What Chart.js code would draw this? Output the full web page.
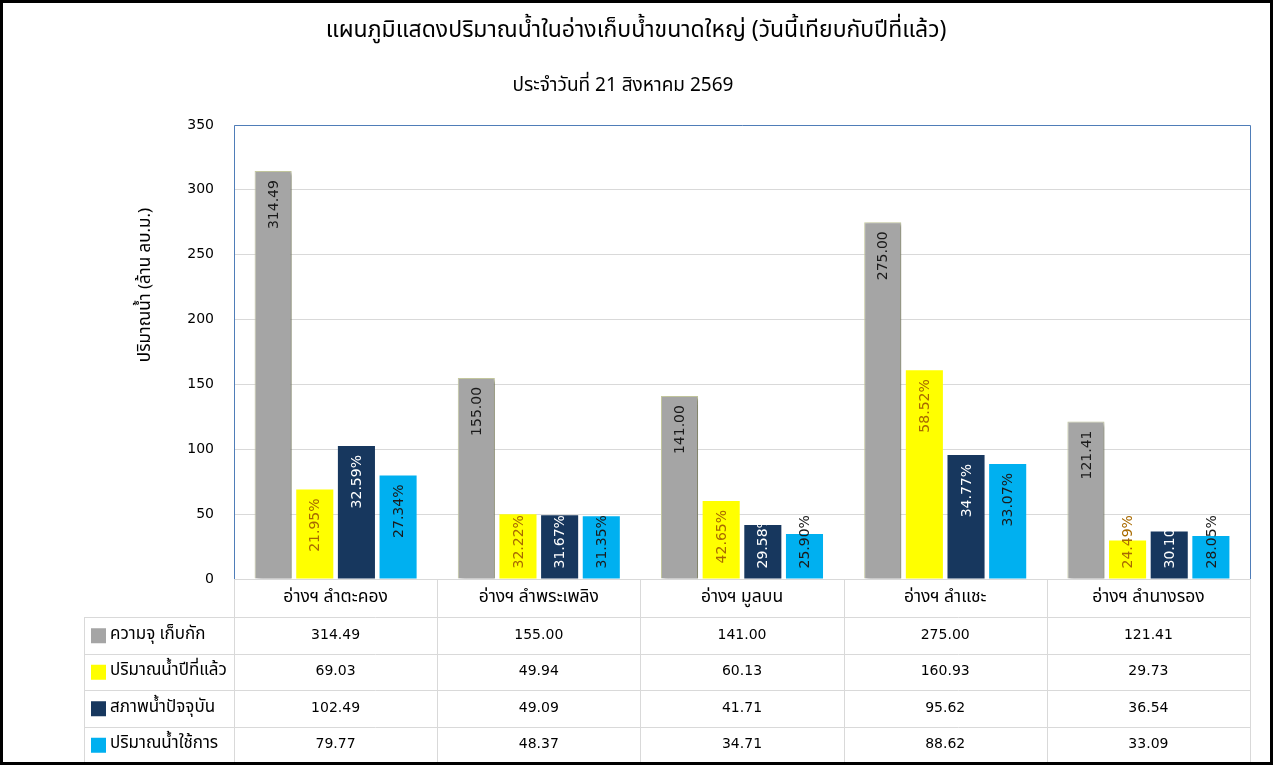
<!DOCTYPE html>
<html>
<head>
<meta charset="utf-8">
<script src="https://cdn.jsdelivr.net/npm/chart.js@4"></script>
<style>
html,body{margin:0;padding:0;background:#fff;}
#wrap{width:1273px;height:765px;position:relative;}
</style>
</head>
<body>
<div id="wrap"><canvas id="c" width="1273" height="765"></canvas></div>
<script>
const categories = ['อ่างฯ ลำตะคอง','อ่างฯ ลำพระเพลิง','อ่างฯ มูลบน','อ่างฯ ลำแชะ','อ่างฯ ลำนางรอง'];
const seriesNames = ['ความจุ เก็บกัก','ปริมาณน้ำปีที่แล้ว','สภาพน้ำปัจจุบัน','ปริมาณน้ำใช้การ'];
const capacity = [314.49,155.00,141.00,275.00,121.41];
const lastYear = [69.03,49.94,60.13,160.93,29.73];
const current = [102.49,49.09,41.71,95.62,36.54];
const usable = [79.77,48.37,34.71,88.62,33.09];
const capacityLabels = ['314.49','155.00','141.00','275.00','121.41'];
const lastYearPct = ['21.95%','32.22%','42.65%','58.52%','24.49%'];
const currentPct = ['32.59%','31.67%','29.58%','34.77%','30.10%'];
const usablePct = ['27.34%','31.35%','25.90%','33.07%','28.05%'];
const yTicks = [0,50,100,150,200,250,300,350];
const titleText = 'แผนภูมิแสดงปริมาณน้ำในอ่างเก็บน้ำขนาดใหญ่ (วันนี้เทียบกับปีที่แล้ว)';
const subtitleText = 'ประจำวันที่ 21 สิงหาคม 2569';
const yTitleText = 'ปริมาณน้ำ (ล้าน ลบ.ม.)';

const colors = ['#A5A5A5','#FFFF00','#17375E','#00B0F0'];
const labelColors = ['#1a1a1a','#A86A00','#FFFFFF','#1a1a1a'];
const THAI = '"Noto Sans Thai","Noto Sans Thai UI","Loma","Garuda","Tahoma","Noto Sans","DejaVu Sans",sans-serif';
const NUM = '"DejaVu Sans","Verdana",sans-serif';
const allData = [capacity,lastYear,current,usable];
const allLabels = [capacityLabels,lastYearPct,currentPct,usablePct];

const drawPlugin = {
  id:'custom',
  beforeDraw(chart){
    const c = chart.ctx;
    c.save();
    c.fillStyle='#fff';
    c.fillRect(0,0,chart.width,chart.height);
    c.fillStyle='#000';
    c.textAlign='center';
    c.textBaseline='middle';
    c.font='23px '+THAI;
    c.fillText(titleText,636,32);
    c.font='19px '+THAI;
    c.fillText(subtitleText,623,87);
    c.translate(147,285);
    c.rotate(-Math.PI/2);
    c.font='17px '+THAI;
    c.fillText(yTitleText,0,0);
    c.restore();
  },
  beforeDatasetDraw(chart,args){
    if(args.index===0){
      const c=chart.ctx;
      c.save();
      c.shadowColor='rgba(0,0,0,0.35)';
      c.shadowOffsetX=3;
      c.shadowOffsetY=2;
      c.shadowBlur=3;
    }
  },
  afterDatasetDraw(chart,args){
    if(args.index===0){ chart.ctx.restore(); }
  },
  afterDatasetsDraw(chart){
    const c=chart.ctx;
    c.save();
    c.font='14px '+NUM;
    c.textBaseline='middle';
    c.textAlign='right';
    for(let d=0; d<4; d++){
      const meta=chart.getDatasetMeta(d);
      meta.data.forEach((el,i)=>{
        const txt=allLabels[d][i];
        const len=c.measureText(txt).width;
        let anchor=el.y+9;
        if(anchor+len>el.base-10) anchor=el.base-10-len;
        c.save();
        c.translate(el.x+1,anchor);
        c.rotate(-Math.PI/2);
        c.fillStyle=labelColors[d];
        c.fillText(txt,0,0);
        c.restore();
      });
    }
    c.restore();
  },
  afterDraw(chart){
    const c=chart.ctx;
    const a=chart.chartArea;
    const xs=chart.scales.x;
    c.save();
    // plot frame
    c.strokeStyle='#4F7DB8';
    c.lineWidth=1;
    c.beginPath();
    c.moveTo(a.left+0.5,a.bottom);
    c.lineTo(a.left+0.5,a.top+0.5);
    c.lineTo(a.right+0.5,a.top+0.5);
    c.lineTo(a.right+0.5,a.bottom);
    c.stroke();
    // table
    const rowTop=617, rowH=36.5, tableLeft=84, tableBottom=762;
    const colW=(a.right-a.left)/categories.length;
    c.strokeStyle='#D9D9D9';
    c.beginPath();
    c.moveTo(a.left,a.bottom+0.5); c.lineTo(a.right,a.bottom+0.5);
    for(let r=0;r<4;r++){
      const y=Math.round(rowTop+r*rowH)+0.5;
      c.moveTo(tableLeft,y); c.lineTo(a.right,y);
    }
    c.moveTo(tableLeft+0.5,rowTop); c.lineTo(tableLeft+0.5,tableBottom);
    for(let i=0;i<=categories.length;i++){
      const x=Math.round(a.left+i*colW)+0.5;
      c.moveTo(x,a.bottom); c.lineTo(x,tableBottom);
    }
    c.stroke();
    c.fillStyle='#000';
    c.textAlign='center';
    c.textBaseline='middle';
    c.font='17.5px '+THAI;
    categories.forEach((cat,i)=>{
      c.fillText(cat,xs.getPixelForValue(i),598);
    });
    c.font='14px '+NUM;
    for(let r=0;r<4;r++){
      const y=rowTop+r*rowH+rowH/2;
      allData[r].forEach((v,i)=>{
        c.fillText(v.toFixed(2),xs.getPixelForValue(i),y);
      });
    }
    c.textAlign='left';
    c.font='17px '+THAI;
    for(let r=0;r<4;r++){
      const y=rowTop+r*rowH+rowH/2;
      c.fillStyle=colors[r];
      c.fillRect(91,y-7,15,15);
      c.fillStyle='#000';
      c.fillText(seriesNames[r],110,y);
    }
    // outer border
    c.strokeStyle='#000';
    c.lineWidth=3;
    c.strokeRect(1.5,1.5,chart.width-3,chart.height-3);
    c.restore();
  }
};

new Chart(document.getElementById('c'),{
  type:'bar',
  data:{
    labels:categories,
    datasets:allData.map((arr,d)=>({
      label:seriesNames[d],
      data:arr,
      backgroundColor:colors[d],
      borderColor:d===0?'#C4C89E':colors[d],
      borderWidth:d===0?1:0,
      barPercentage:0.89,
      categoryPercentage:0.82
    }))
  },
  options:{
    responsive:false,
    animation:false,
    devicePixelRatio:1,
    layout:{padding:{left:0,top:125,right:23,bottom:186}},
    plugins:{legend:{display:false},title:{display:false},tooltip:{enabled:false}},
    scales:{
      x:{
        grid:{display:false,drawTicks:false},
        border:{display:false},
        ticks:{display:false},
        afterFit(s){s.height=0;}
      },
      y:{
        min:0,max:350,
        afterBuildTicks(s){s.ticks=yTicks.map(v=>({value:v}));},
        grid:{color:'#D9D9D9',drawTicks:false},
        border:{display:false},
        ticks:{color:'#000',font:{family:NUM,size:14},padding:20},
        afterFit(s){s.width=234;}
      }
    }
  },
  plugins:[drawPlugin]
});
</script>
</body>
</html>
